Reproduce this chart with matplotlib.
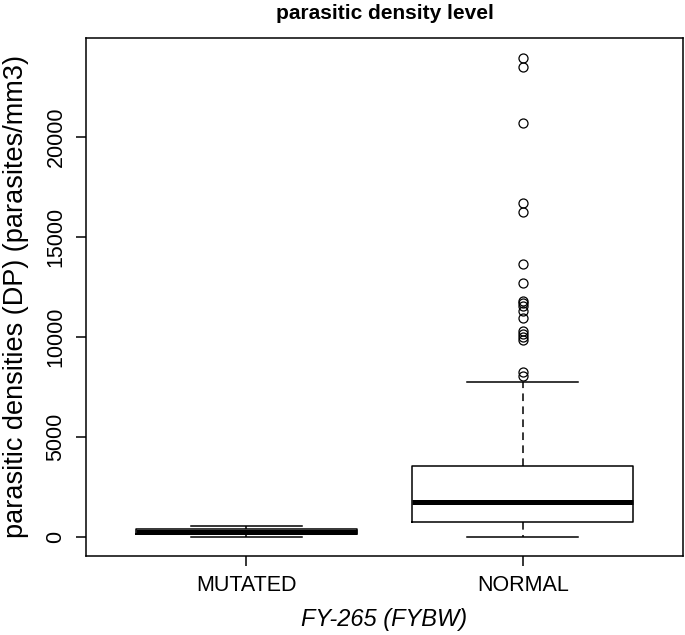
import matplotlib
matplotlib.use('Agg')
import matplotlib.pyplot as plt
import numpy as np

plt.rcParams['font.family'] = ['Liberation Sans', 'DejaVu Sans']

# values
groups = ['MUTATED', 'NORMAL']
whislo = [15, 10]
q1 = [135, 765]
med = [265, 1750]
q3 = [385, 3530]
whishi = [550, 7735]
fliers_mutated = []
fliers_normal = [23950, 23520, 20690, 16690, 16270, 13650, 12690,
                 11820, 11690, 11550, 11320, 10970,
                 10320, 10150, 9990, 9850, 8250, 8030]
yticks = [0, 5000, 10000, 15000, 20000]

stats = []
for i, name in enumerate(groups):
    stats.append(dict(label=name, whislo=whislo[i], q1=q1[i], med=med[i],
                      q3=q3[i], whishi=whishi[i],
                      fliers=[fliers_mutated, fliers_normal][i]))

fig = plt.figure(figsize=(6.85, 6.35), dpi=100)
ax = fig.add_axes([86/685, 1-556/635, (683-86)/685, (556-38)/635])

ax.bxp(stats, positions=[1, 2], widths=0.8,
       boxprops=dict(color='black', linewidth=1.1),
       medianprops=dict(color='black', linewidth=3.6, solid_capstyle='butt'),
       whiskerprops=dict(color='black', linewidth=1.1, linestyle=(0, (5, 3.5))),
       capprops=dict(color='black', linewidth=1.1),
       capwidths=0.4,
       flierprops=dict(marker='o', markerfacecolor='none', markeredgecolor='black',
                       markersize=6.5, markeredgewidth=0.9, linestyle='none'))

lo, hi = 10, 23990
pad = 0.04 * (hi - lo)
ax.set_ylim(lo - pad, hi + pad)
ax.set_xlim(0.5 - 0.08, 2.5 + 0.08)

ax.set_yticks(yticks)
ax.set_yticklabels([str(t) for t in yticks], rotation=90, va='center')
ax.set_xticks([1, 2])
ax.set_xticklabels(groups)
ax.tick_params(axis='both', direction='out', length=7, width=1.1, labelsize=15.5, pad=7)

for s in ax.spines.values():
    s.set_linewidth(1.1)

ax.set_title('parasitic density level', fontsize=15, fontweight='bold', pad=14)
ax.set_xlabel('FY-265 (FYBW)', fontsize=17, style='italic', labelpad=8)
ax.set_ylabel('parasitic densities (DP) (parasites/mm3)', fontsize=19.5, labelpad=12)

fig.savefig('out.png', dpi=100)
